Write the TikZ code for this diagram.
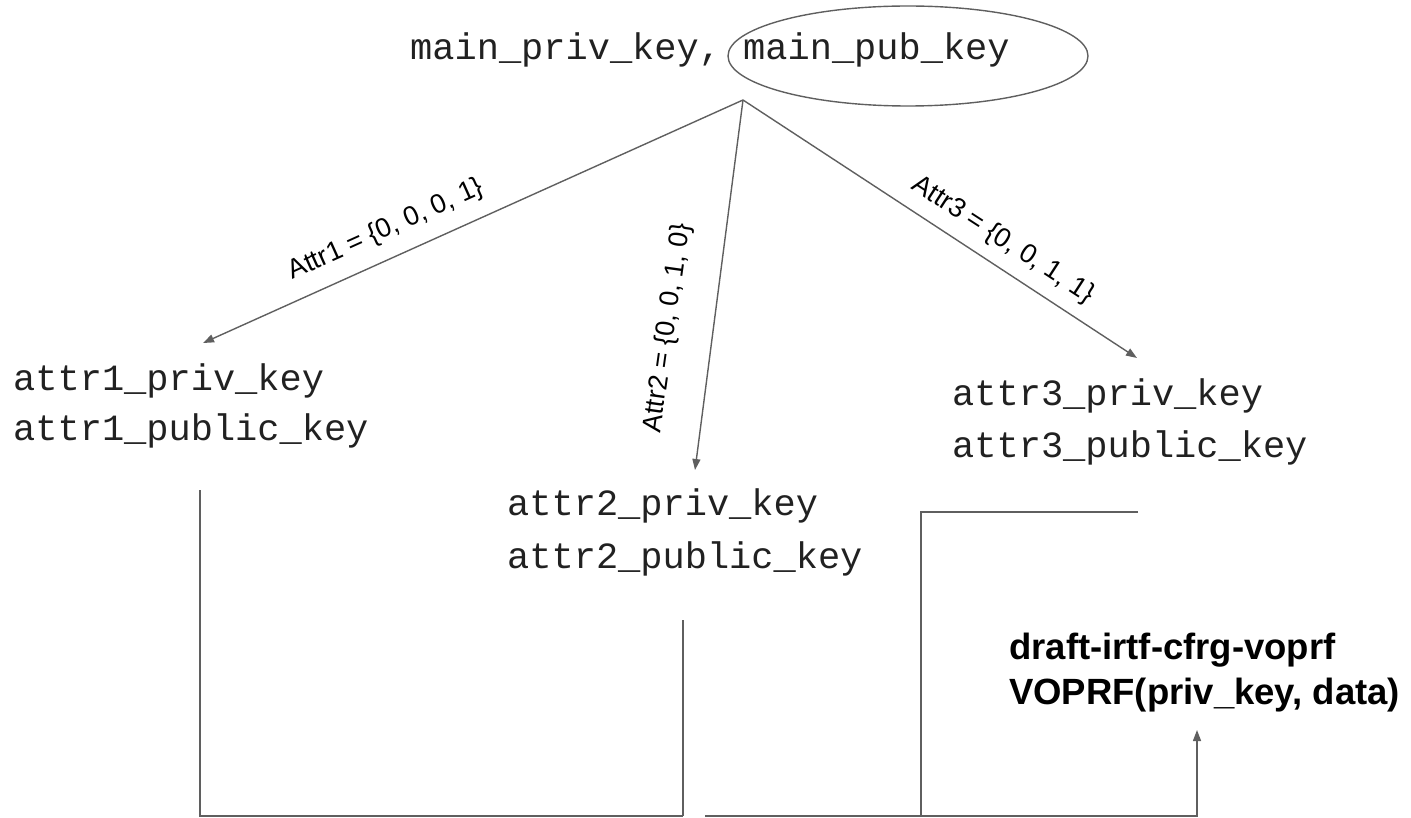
\documentclass[tikz,border=0pt]{standalone}
\usepackage{fontspec}
\setmainfont{Liberation Sans}
\setmonofont{Liberation Mono}
\usetikzlibrary{arrows.meta,shapes.geometric}
\definecolor{linec}{HTML}{5F5F5F}
\definecolor{txtc}{HTML}{212121}
\tikzset{
  conn/.style={draw=linec, line width=1.4pt},
  arr/.style={conn, -{Triangle[length=11pt,width=8pt]}},
  keytxt/.style={anchor=base west, inner sep=0pt, text=txtc, font=\ttfamily\fontsize{37}{44}\selectfont},
  attrlbl/.style={inner sep=0pt, text=black, font=\fontsize{27}{31}\selectfont},
  boldtxt/.style={anchor=base west, inner sep=0pt, text=black, font=\bfseries\fontsize{36.5}{43}\selectfont},
}
\begin{document}
\begin{tikzpicture}[x=1pt,y=-1pt]
\useasboundingbox (0,0) rectangle (1411,818);
% top
\node[keytxt] (main) at (410,60) {main\_priv\_key, main\_pub\_key};
\node[draw=linec, line width=1.4pt, ellipse, minimum width=360pt, minimum height=100pt, inner sep=0pt] (ell) at (908,56) {};
\coordinate (apex) at (743,100);
% targets
\coordinate (t1) at (203,343);
\coordinate (t2) at (695,470);
\coordinate (t3) at (1137,358);
\draw[arr] (apex) -- (t1);
\draw[arr] (apex) -- (t2);
\draw[arr] (apex) -- (t3);
% labels
\node[attrlbl, rotate=24.2] (l1) at (386,230) {Attr1 = \{0, 0, 0, 1\}};
\node[attrlbl, rotate=82] (l2) at (668,328) {Attr2 = \{0, 0, 1, 0\}};
\node[attrlbl, rotate=-33] (l3) at (1003,240) {Attr3 = \{0, 0, 1, 1\}};
% key texts
\node[keytxt] (a1p) at (13,390) {attr1\_priv\_key};
\node[keytxt] (a1q) at (13,440) {attr1\_public\_key};
\node[keytxt] (a2p) at (507,515) {attr2\_priv\_key};
\node[keytxt] (a2q) at (507,568) {attr2\_public\_key};
\node[keytxt] (a3p) at (952,405) {attr3\_priv\_key};
\node[keytxt] (a3q) at (952,457) {attr3\_public\_key};
% voprf
\node[boldtxt] (v1) at (1009,659) {draft-irtf-cfrg-voprf};
\node[boldtxt] (v2) at (1009,704) {VOPRF(priv\_key, data)};
% bottom connectors
\coordinate (c1) at (200,490);
\coordinate (c1b) at (200,816);
\coordinate (c2) at (683,620);
\coordinate (c2b) at (683,816);
\coordinate (c3s) at (1138,512);
\coordinate (c3) at (921,512);
\coordinate (c3b) at (921,816);
\coordinate (c4s) at (705,816);
\coordinate (c4) at (1197,730);
\draw[conn] (c1) -- (c1b) -- (c2b);
\draw[conn] (c2) -- (c2b);
\draw[conn] (c3s) -- (c3) -- (c3b);
\draw[arr] (c4s) -| (c4);
\end{tikzpicture}
\end{document}
